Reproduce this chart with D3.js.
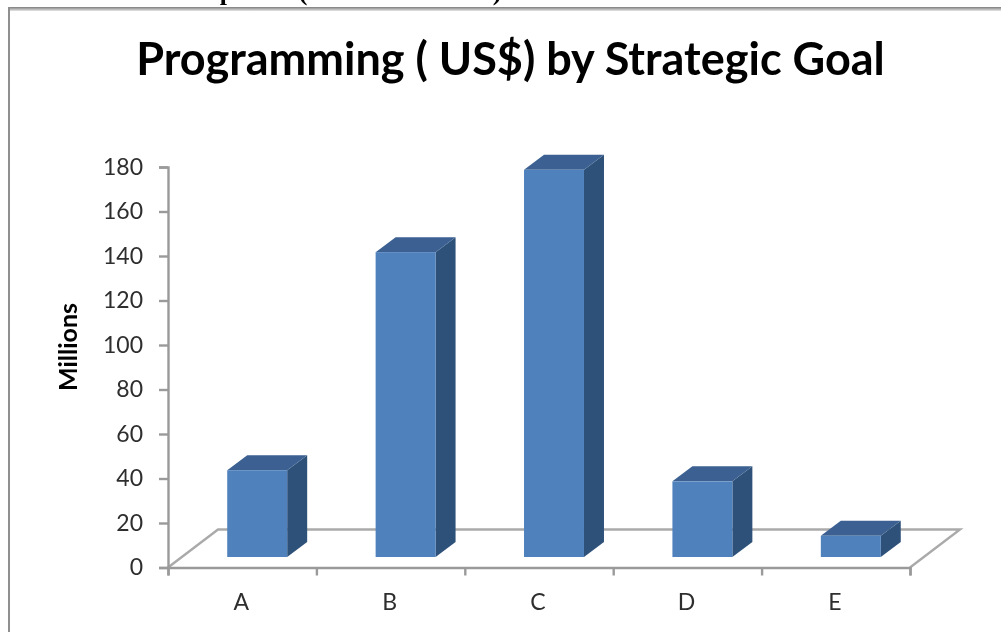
<!DOCTYPE html>
<html>
<head>
<meta charset="utf-8">
<script src="https://cdn.jsdelivr.net/npm/d3@7"></script>
<style>
  html, body { margin: 0; padding: 0; background: #fff; overflow: hidden; }
  svg { display: block; font-family: Lato, sans-serif; }
  .tick text { fill: #2e2e2e; font-family: Lato, sans-serif; font-size: 23px; }
  .domain, .tick line { stroke: #9a9a9a; stroke-width: 2.4px; }
</style>
</head>
<body>
<svg id="chart"></svg>
<script>
const categories = ['A', 'B', 'C', 'D', 'E'];
const values = [39, 137, 174, 34, 9.5];
const yTicks = [0, 20, 40, 60, 80, 100, 120, 140, 160, 180];
const titleText = 'Programming ( US$) by Strategic Goal';
const yTitle = 'Millions';
// only the bottoms of these survive the crop at the top edge of the source
const croppedGlyphs = [['р', 227], ['(', 303], [')', 497]];

const gc = {
  width: 1001, height: 632,
  left: 168, right: 910, top: 167, bottom: 567.5,
  floorDx: 50, floorDy: -38,
  barDx: 15, barDy: -10.5,
  depthDx: 20, depthDy: -15
};

const svg = d3.select('#chart')
  .attr('width', gc.width)
  .attr('height', gc.height);

// source is a scaled up screenshot, everything is slightly soft
const defs = svg.append('defs');
defs.append('filter').attr('id', 'soft')
  .attr('filterUnits', 'userSpaceOnUse')
  .attr('x', 0).attr('y', 0)
  .attr('width', gc.width).attr('height', gc.height)
  .append('feGaussianBlur').attr('stdDeviation', 0.7);
const frameGrad = defs.append('linearGradient').attr('id', 'frameTop')
  .attr('x1', 0).attr('x2', 0).attr('y1', 0).attr('y2', 1);
frameGrad.append('stop').attr('offset', 0).attr('stop-color', '#7d7d7d');
frameGrad.append('stop').attr('offset', 1).attr('stop-color', '#e6e6e6');

const viewPort = svg.append('g').attr('filter', 'url(#soft)');

viewPort.selectAll('text.cropped')
  .data(croppedGlyphs).enter()
  .append('text')
  .attr('class', 'cropped')
  .attr('x', d => d[1])
  .attr('y', 0)
  .attr('text-anchor', 'middle')
  .attr('font-family', '"Liberation Serif", serif')
  .attr('font-weight', 700)
  .attr('font-size', 26)
  .text(d => d[0]);

// outer frame, only top and left show
viewPort.append('rect')
  .attr('x', 8).attr('y', 7).attr('width', gc.width).attr('height', 4)
  .attr('fill', 'url(#frameTop)');
viewPort.append('rect')
  .attr('x', 8).attr('y', 7).attr('width', 2).attr('height', gc.height)
  .attr('fill', '#8f8f8f');

const xScale = d3.scaleBand()
  .domain(categories)
  .range([gc.left, gc.right])
  .paddingInner(0.596)
  .paddingOuter(0.298);

const xEdges = d3.scaleLinear()
  .domain([0, categories.length])
  .range([gc.left, gc.right]);

const yScale = d3.scaleLinear()
  .domain([0, 180])
  .range([gc.bottom, gc.top]);

// floor
const fd = [
  [gc.left, gc.bottom],
  [gc.left + gc.floorDx, gc.bottom + gc.floorDy],
  [gc.right + gc.floorDx, gc.bottom + gc.floorDy],
  [gc.right, gc.bottom]
];
viewPort.append('path')
  .attr('d', d3.line()(fd))
  .attr('fill', 'none')
  .attr('stroke', '#aaaaaa')
  .attr('stroke-width', 2.4);

// axes
const yAxis = d3.axisLeft(yScale)
  .tickValues(yTicks)
  .tickSizeInner(9)
  .tickSizeOuter(9)
  .tickPadding(16);
viewPort.append('g')
  .attr('transform', `translate(${gc.left}, 0)`)
  .call(yAxis);

const xAxisTicks = d3.axisBottom(xEdges)
  .tickValues(d3.range(categories.length + 1))
  .tickFormat('')
  .tickSizeInner(8)
  .tickSizeOuter(8);
viewPort.append('g')
  .attr('transform', `translate(0, ${gc.bottom})`)
  .call(xAxisTicks);

const xAxisLabels = d3.axisBottom(xScale)
  .tickSize(0)
  .tickPadding(26);
const labelsG = viewPort.append('g')
  .attr('transform', `translate(-1, ${gc.bottom})`)
  .call(xAxisLabels);
labelsG.select('.domain').remove();

// 3d bars
const bars = viewPort.selectAll('g.bar')
  .data(categories.map((c, i) => ({ c, v: values[i] })))
  .enter().append('g')
  .attr('class', 'bar')
  .attr('transform', `translate(${gc.barDx}, ${gc.barDy})`);

const bw = xScale.bandwidth();

bars.append('path')
  .attr('fill', '#2f5179')
  .attr('d', d => {
    const x = xScale(d.c) + bw, y = yScale(d.v);
    return d3.line()([[x, gc.bottom], [x, y], [x + gc.depthDx, y + gc.depthDy],
      [x + gc.depthDx, gc.bottom + gc.depthDy]]) + 'Z';
  });

bars.append('path')
  .attr('fill', '#3a6191')
  .attr('d', d => {
    const x = xScale(d.c), y = yScale(d.v);
    return d3.line()([[x, y], [x + gc.depthDx, y + gc.depthDy],
      [x + bw + gc.depthDx, y + gc.depthDy], [x + bw, y]]) + 'Z';
  });

bars.append('rect')
  .attr('fill', '#4f81bd')
  .attr('x', d => xScale(d.c))
  .attr('width', bw)
  .attr('y', d => yScale(d.v))
  .attr('height', d => gc.bottom - yScale(d.v));

// titles
viewPort.append('text')
  .attr('x', 510.5)
  .attr('y', 75)
  .attr('text-anchor', 'middle')
  .attr('font-size', 45)
  .attr('font-weight', 700)
  .attr('fill', '#000')
  .text(titleText);

viewPort.append('text')
  .attr('transform', 'translate(77, 347) rotate(-90)')
  .attr('text-anchor', 'middle')
  .attr('font-size', 25)
  .attr('font-weight', 700)
  .attr('fill', '#000')
  .text(yTitle);
</script>
</body>
</html>
